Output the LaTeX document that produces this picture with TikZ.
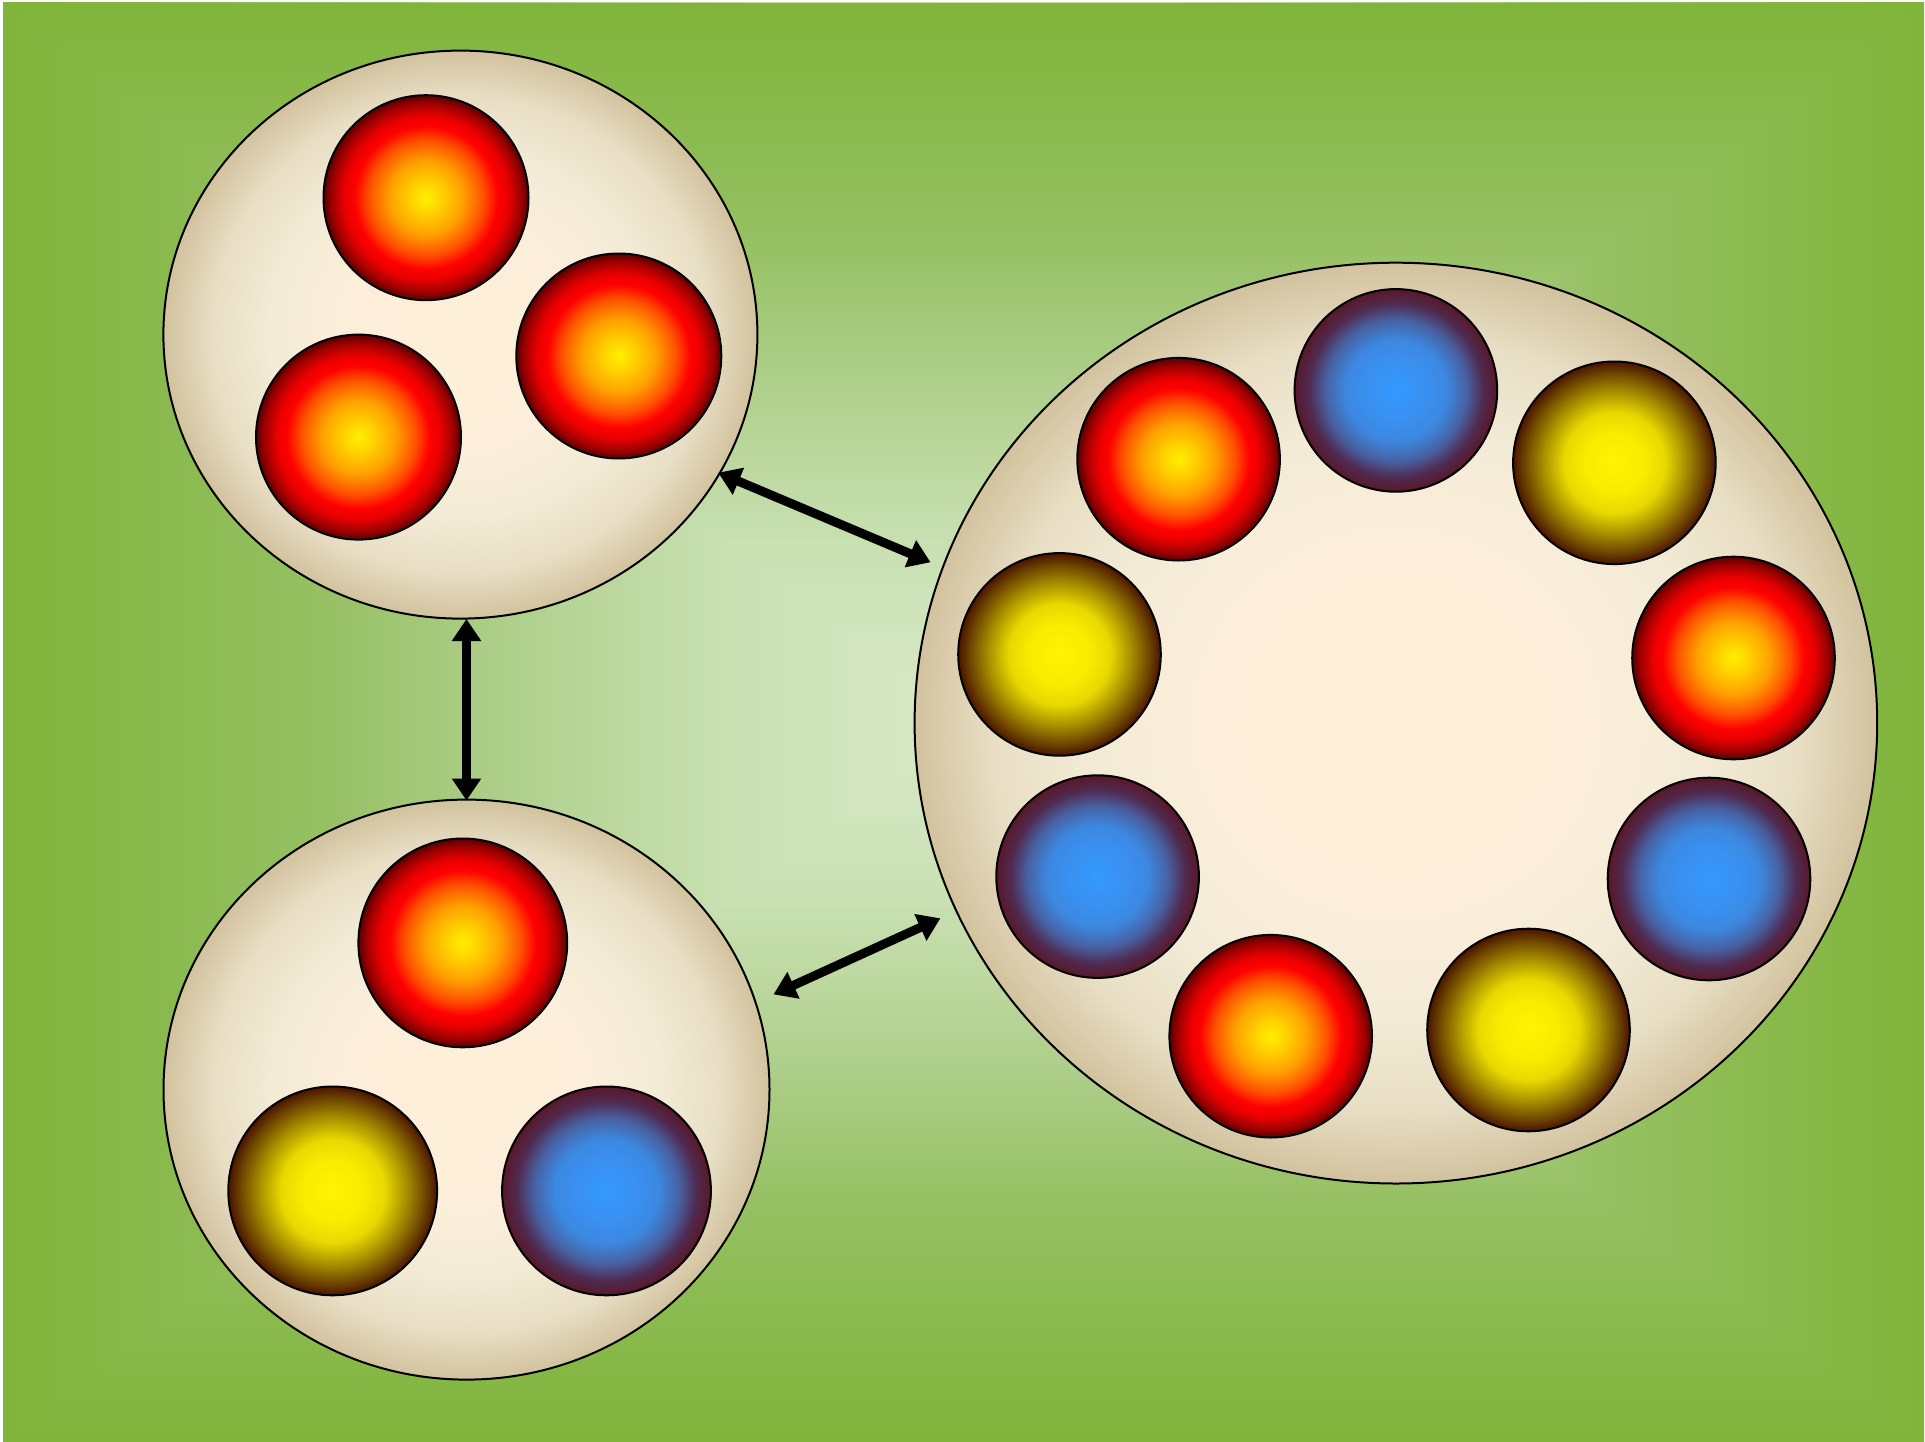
\documentclass[tikz,border=0pt]{standalone}
\usetikzlibrary{shapes.geometric,arrows.meta}
\definecolor{gA}{HTML}{80B43A}
\definecolor{gB}{HTML}{8ABA4E}
\definecolor{gC}{HTML}{96C062}
\definecolor{gD}{HTML}{ABCD86}
\definecolor{gE}{HTML}{B8D598}
\definecolor{gF}{HTML}{C8E0B2}
\definecolor{gG}{HTML}{D3E6C0}
\definecolor{gH}{HTML}{D8E8C4}
\definecolor{beA}{HTML}{FFEFD8}
\definecolor{beB}{HTML}{FCEEDA}
\definecolor{beC}{HTML}{F3EBD6}
\definecolor{beD}{HTML}{E8DEC4}
\definecolor{beE}{HTML}{D2C29E}
\definecolor{rdA}{HTML}{FFF000}
\definecolor{rdB}{HTML}{FFD000}
\definecolor{rdC}{HTML}{FFA000}
\definecolor{rdD}{HTML}{FF5000}
\definecolor{rdE}{HTML}{FF0000}
\definecolor{rdF}{HTML}{E80000}
\definecolor{rdG}{HTML}{A00000}
\definecolor{rdH}{HTML}{580000}
\definecolor{ylA}{HTML}{FFF500}
\definecolor{ylB}{HTML}{F8EC00}
\definecolor{ylC}{HTML}{E8D800}
\definecolor{ylD}{HTML}{A89000}
\definecolor{ylE}{HTML}{704800}
\definecolor{ylF}{HTML}{4A1400}
\definecolor{blA}{HTML}{3399FF}
\definecolor{blB}{HTML}{3A90F0}
\definecolor{blC}{HTML}{3C88E0}
\definecolor{blD}{HTML}{4860A0}
\definecolor{blE}{HTML}{502A50}
\definecolor{blF}{HTML}{581828}
% axis shadings: the path's bounding box maps to 25bp..75bp; edge at 25bp, centre at 75bp
\pgfdeclarehorizontalshading{rampH}{100bp}{color(0bp)=(gA); color(25bp)=(gA); color(33.5bp)=(gB); color(41.5bp)=(gC); color(50bp)=(gD); color(55bp)=(gE); color(62.5bp)=(gF); color(70bp)=(gG); color(75bp)=(gH); color(100bp)=(gH)}
\pgfdeclareverticalshading{rampV}{100bp}{color(0bp)=(gA); color(25bp)=(gA); color(33.5bp)=(gB); color(41.5bp)=(gC); color(50bp)=(gD); color(55bp)=(gE); color(62.5bp)=(gF); color(70bp)=(gG); color(75bp)=(gH); color(100bp)=(gH)}
% radial shadings: 25bp = edge of the shaded shape
\pgfdeclareradialshading{beigeshade}{\pgfpoint{0bp}{0bp}}{color(0bp)=(beA); color(10bp)=(beB); color(16bp)=(beC); color(21bp)=(beD); color(25bp)=(beE); color(50bp)=(beE)}
\pgfdeclareradialshading{redshade}{\pgfpoint{0bp}{0bp}}{color(0bp)=(rdA); color(4bp)=(rdB); color(9bp)=(rdC); color(14bp)=(rdD); color(17.5bp)=(rdE); color(20bp)=(rdF); color(23bp)=(rdG); color(25bp)=(rdH); color(50bp)=(rdH)}
\pgfdeclareradialshading{yellowshade}{\pgfpoint{0bp}{0bp}}{color(0bp)=(ylA); color(7.5bp)=(ylB); color(12.5bp)=(ylC); color(17.5bp)=(ylD); color(22bp)=(ylE); color(25bp)=(ylF); color(50bp)=(ylF)}
\pgfdeclareradialshading{blueshade}{\pgfpoint{0bp}{0bp}}{color(0bp)=(blA); color(7.5bp)=(blB); color(12.5bp)=(blC); color(17.5bp)=(blD); color(21.5bp)=(blE); color(25bp)=(blF); color(50bp)=(blF)}
\tikzset{
  cell/.style={ellipse, draw=black, line width=2pt, inner sep=0pt, shade, shading=beigeshade},
  ball/.style={circle, draw=black, line width=2pt, inner sep=0pt, shade},
  redball/.style={ball, shading=redshade},
  yellowball/.style={ball, shading=yellowshade},
  blueball/.style={ball, shading=blueshade},
  link/.style={line width=9pt, {Triangle[length=22pt,width=28pt]}-{Triangle[length=22pt,width=28pt]}}
}
\begin{document}
\begin{tikzpicture}[x=1pt,y=-1pt]
\useasboundingbox (0,0) rectangle (1925,1442);
\fill[white] (0,0) rectangle (1925,1442);
% box-shaped background gradient
\shade[shading=rampH] (3,3) rectangle (964,1442);
\shade[shading=rampH, shading angle=180] (963,3) rectangle (1924,1442);
\shade[shading=rampV, shading angle=180] (3,3) -- (1924,3) -- (963.5,722.5) -- cycle;
\shade[shading=rampV] (3,1442) -- (1924,1442) -- (963.5,722.5) -- cycle;
% cells
\node[cell, minimum width=594pt, minimum height=568pt] (tl) at (460.4,334.6) {};
\node[cell, minimum width=606pt, minimum height=580pt] (bl) at (466.5,1089.6) {};
\node[cell, minimum width=962.6pt, minimum height=920.8pt] (big) at (1395.9,723.1) {};
% top-left balls
\node[redball, minimum size=205pt] (t1) at (426.0,197.7) {};
\node[redball, minimum size=205pt] (t2) at (618.8,356.0) {};
\node[redball, minimum size=205pt] (t3) at (358.5,437.1) {};
% bottom-left balls
\node[redball, minimum size=208.8pt] (b1) at (462.8,942.9) {};
\node[yellowball, minimum size=208.8pt] (b2) at (332.7,1190.9) {};
\node[blueball, minimum size=208.8pt] (b3) at (606.5,1190.9) {};
% big cell balls
\node[redball, minimum size=202.6pt] (g1) at (1178.6,459.2) {};
\node[blueball, minimum size=202.6pt] (g2) at (1395.9,390.4) {};
\node[yellowball, minimum size=202.6pt] (g3) at (1614.4,462.8) {};
\node[redball, minimum size=202.6pt] (g4) at (1733.5,658.0) {};
\node[blueball, minimum size=202.6pt] (g5) at (1709.0,879.0) {};
\node[yellowball, minimum size=202.6pt] (g6) at (1528.5,1030.0) {};
\node[redball, minimum size=202.6pt] (g7) at (1270.7,1036.2) {};
\node[blueball, minimum size=202.6pt] (g8) at (1097.6,876.6) {};
\node[yellowball, minimum size=202.6pt] (g9) at (1059.5,654.4) {};
% arrow end points
\coordinate (va) at (466.5,619);
\coordinate (vb) at (466.5,800.5);
\coordinate (ua) at (718.2,472.7);
\coordinate (ub) at (930.6,562.3);
\coordinate (la) at (773.5,994.4);
\coordinate (lb) at (940.4,918.3);
\draw[link] (va) -- (vb);
\draw[link] (ua) -- (ub);
\draw[link] (la) -- (lb);
\end{tikzpicture}
\end{document}
